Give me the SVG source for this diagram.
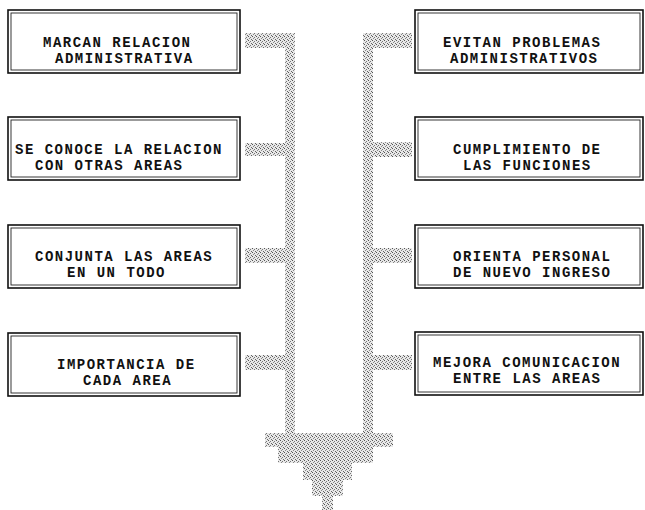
<svg xmlns="http://www.w3.org/2000/svg" width="645" height="510" viewBox="0 0 645 510">
<defs>
<pattern id="stip" width="4" height="4" patternUnits="userSpaceOnUse">
<rect width="4" height="4" fill="#e8e8e8"/>
<rect x="0" y="0" width="1" height="1" fill="#555"/>
<rect x="2" y="1" width="1" height="1" fill="#777"/>
<rect x="1" y="2" width="1" height="1" fill="#888"/>
<rect x="3" y="3" width="1" height="1" fill="#666"/>
</pattern>
</defs>
<style>
.o{fill:#fff;stroke:#111;stroke-width:1.6}
.i{fill:none;stroke:#222;stroke-width:0.9}
.t{font-family:"Liberation Mono","DejaVu Sans Mono",monospace;font-weight:bold;font-size:14px;letter-spacing:1.5px;fill:#111}
.c{fill:url(#stip)}
</style>
<rect width="645" height="510" fill="#fff"/>
<g id="connectors">
<rect class="c" x="245" y="33" width="50" height="15"/>
<rect class="c" x="285" y="33" width="10" height="414"/>
<rect class="c" x="245" y="143" width="40" height="13"/>
<rect class="c" x="245" y="248" width="40" height="15"/>
<rect class="c" x="245" y="355" width="40" height="15"/>
<rect class="c" x="363" y="33" width="49" height="15"/>
<rect class="c" x="363" y="33" width="10" height="414"/>
<rect class="c" x="373" y="142" width="39" height="15"/>
<rect class="c" x="373" y="248" width="39" height="15"/>
<rect class="c" x="373" y="355" width="39" height="15"/>
<rect class="c" x="265" y="433" width="128" height="14"/>
<rect class="c" x="278" y="447" width="95" height="16"/>
<rect class="c" x="303" y="463" width="49" height="17"/>
<rect class="c" x="312" y="480" width="31" height="16"/>
<rect class="c" x="322" y="496" width="11" height="14"/>
</g>
<g id="n1">
<rect class="o" x="8" y="10" width="232" height="63"/><rect class="i" x="11" y="13" width="226" height="57"/>
<text class="t" x="43" y="47">MARCAN RELACION</text><text class="t" x="55" y="63">ADMINISTRATIVA</text>
</g>
<g id="n2">
<rect class="o" x="8" y="117" width="232" height="63"/><rect class="i" x="11" y="120" width="226" height="57"/>
<text class="t" x="15" y="154">SE CONOCE LA RELACION</text><text class="t" x="35" y="170">CON OTRAS AREAS</text>
</g>
<g id="n3">
<rect class="o" x="8" y="225" width="232" height="63"/><rect class="i" x="11" y="228" width="226" height="57"/>
<text class="t" x="35" y="261">CONJUNTA LAS AREAS</text><text class="t" x="67" y="277">EN UN TODO</text>
</g>
<g id="n4">
<rect class="o" x="8" y="333" width="232" height="63"/><rect class="i" x="11" y="336" width="226" height="57"/>
<text class="t" x="57" y="369">IMPORTANCIA DE</text><text class="t" x="83" y="385">CADA AREA</text>
</g>
<g id="n5">
<rect class="o" x="415" y="10" width="228" height="63"/><rect class="i" x="418" y="13" width="222" height="57"/>
<text class="t" x="443" y="47">EVITAN PROBLEMAS</text><text class="t" x="450" y="63">ADMINISTRATIVOS</text>
</g>
<g id="n6">
<rect class="o" x="415" y="117" width="228" height="63"/><rect class="i" x="418" y="120" width="222" height="57"/>
<text class="t" x="453" y="154">CUMPLIMIENTO DE</text><text class="t" x="463" y="170">LAS FUNCIONES</text>
</g>
<g id="n7">
<rect class="o" x="415" y="225" width="228" height="63"/><rect class="i" x="418" y="228" width="222" height="57"/>
<text class="t" x="453" y="261">ORIENTA PERSONAL</text><text class="t" x="453" y="277">DE NUEVO INGRESO</text>
</g>
<g id="n8">
<rect class="o" x="415" y="332" width="228" height="63"/><rect class="i" x="418" y="335" width="222" height="57"/>
<text class="t" x="433" y="367">MEJORA COMUNICACION</text><text class="t" x="453" y="383">ENTRE LAS AREAS</text>
</g>
</svg>
